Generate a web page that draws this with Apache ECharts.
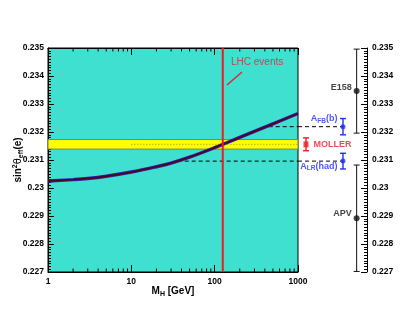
<!DOCTYPE html>
<html><head><meta charset="utf-8">
<script src="https://cdn.jsdelivr.net/npm/echarts@6/dist/echarts.min.js"></script>
<style>html,body{margin:0;padding:0;background:#fff}#c{width:415px;height:321px}</style>
</head><body><div id="c"></div>
<script>
// ---- data ----
const massGeV   = [1, 2, 3, 5, 10, 20, 30, 50, 100, 200, 300, 500, 1000];
const sin2Curve = [0.23025, 0.23030, 0.23034, 0.23042, 0.23057, 0.23076, 0.23089, 0.23110, 0.23144, 0.23181, 0.23202, 0.23229, 0.23266];
const xMinorTicks = [2,3,4,5,6,7,8,9,20,30,40,50,60,70,80,90,200,300,400,500,600,700,800,900];
const yRange = [0.227, 0.235];
const yStep = 0.001;
const lhcMass = 125;
const mollerCenter = 0.23156;
const mollerHalfBand = 0.00017;
const mollerDottedFrom = 10;
const measNames  = ['E158', 'AFB', 'MOLLER', 'ALR', 'APV'];
const measValues = [0.23346, 0.23219, 0.23156, 0.23096, 0.22892];
const measErrors = [0.00150, 0.00029, 0.00023, 0.00028, 0.00190];
const measColumn = [0.85, 0.652, 0.116, 0.652, 0.85];   // column inside side panel (0..1)
const dashStartMass = [445, 36];                      // dashed lines for A_FB(b) and A_LR(had)
const lhcTextAnchor = [157, 0.2345];
const lhcArrow = [[213, 0.23414], [140.6, 0.23368]];

// ---- styling ----
const FONT = '"Liberation Sans", Arial, Helvetica, sans-serif';
const BLACK = '#111', BLUE = '#1f2ff0', RED = '#ee1b24';
const measColors = [BLACK, BLUE, RED, BLUE, BLACK];

const titleRich = (c) => ({
  n:   {fontSize: 10, fontWeight: 'bold', fontFamily: FONT, color: c, lineHeight: 13},
  sub: {fontSize: 7,  fontWeight: 'bold', fontFamily: FONT, color: c, verticalAlign: 'bottom'},
  sup: {fontSize: 7,  fontWeight: 'bold', fontFamily: FONT, color: c, verticalAlign: 'top'},
  th:  {fontSize: 10, fontWeight: 'normal', fontFamily: 'DejaVu Sans, serif', color: c, lineHeight: 13}
});
const labRich = (c) => ({
  n:   {fontSize: 9, fontWeight: 'bold', fontFamily: FONT, color: c, lineHeight: 12},
  sub: {fontSize: 6.5, fontWeight: 'bold', fontFamily: FONT, color: c, verticalAlign: 'bottom'}
});
const measLabelText = {
  E158: '{n|E158}', AFB: '{n|A}{sub|FB}{n|(b)}', MOLLER: '{n|MOLLER}', ALR: '{n|A}{sub|LR}{n|(had)}', APV: '{n|APV}'
};
const measLabelPos = {
  E158: ['left', 2, [0, -4]], AFB: ['left', 3, [0, -8]], MOLLER: ['right', 5, [0, 0]],
  ALR: ['left', 3, [0, 5]], APV: ['left', 2, [0, -5]]
};
const measSymbol = {E158: ['circle', 6], AFB: ['circle', 5], MOLLER: ['rect', [5, 6]], ALR: ['circle', 5], APV: ['circle', 6]};

const axisLabelStyle = {fontSize: 8.5, fontWeight: 'bold', fontFamily: FONT, color: '#000'};
const lineBlack = {color: '#000', width: 1};

const chart = echarts.init(document.getElementById('c'));
const option = {
  animation: false,
  backgroundColor: '#fff',
  grid: [
    {left: 48, top: 48, width: 250, height: 224, outerBoundsMode: 'none', containLabel: false,
     show: true, backgroundColor: '#40e0d0', borderColor: '#000', borderWidth: 1},
    {left: 298, top: 48, width: 69, height: 224, outerBoundsMode: 'none', containLabel: false}
  ],
  xAxis: [
    {type: 'log', logBase: 10, gridIndex: 0, min: 1, max: 1000, position: 'bottom',
     axisLine: {show: true, onZero: false, lineStyle: lineBlack},
     axisTick: {show: true, inside: true, length: 7, lineStyle: lineBlack},
     axisLabel: Object.assign({margin: 5, formatter: v => String(Math.round(v))}, axisLabelStyle),
     splitLine: {show: false},
     name: '{n|M}{sub|H}{n| [GeV]}', nameLocation: 'middle', nameGap: 13, nameMoveOverlap: false,
     nameTextStyle: {rich: titleRich('#000')}},
    {type: 'log', logBase: 10, gridIndex: 0, min: 1, max: 1000, position: 'top',
     axisLine: {show: true, onZero: false, lineStyle: lineBlack},
     axisTick: {show: true, inside: true, length: 7, lineStyle: lineBlack},
     axisLabel: {show: false}, splitLine: {show: false}},
    {type: 'value', gridIndex: 1, min: 0, max: 1, show: false, axisLine: {onZero: false}}
  ],
  yAxis: [
    {type: 'value', gridIndex: 0, min: yRange[0], max: yRange[1], interval: yStep, position: 'left',
     axisLine: {show: true, onZero: false, lineStyle: lineBlack},
     axisTick: {show: true, inside: true, length: 6, lineStyle: lineBlack},
     minorTick: {show: true, splitNumber: 10, length: 3, lineStyle: lineBlack},
     axisLabel: Object.assign({margin: 4}, axisLabelStyle),
     splitLine: {show: false}, minorSplitLine: {show: false},
     name: '{n|sin}{sup|2}{th|θ}{sub|eff}{n|(e)}', nameLocation: 'middle', nameRotate: 90, nameGap: 23,
     nameMoveOverlap: false,
     nameTextStyle: {rich: titleRich('#000')}},
    {type: 'value', gridIndex: 1, min: yRange[0], max: yRange[1], interval: yStep, position: 'right',
     axisLine: {show: true, onZero: false, lineStyle: lineBlack},
     axisTick: {show: true, inside: true, length: 6, lineStyle: lineBlack},
     minorTick: {show: true, splitNumber: 10, length: 3, lineStyle: lineBlack},
     axisLabel: Object.assign({margin: 5}, axisLabelStyle),
     splitLine: {show: false}, minorSplitLine: {show: false}}
  ],
  series: [
    {type: 'custom', xAxisIndex: 0, yAxisIndex: 0, z: 2, silent: true,
     data: [[1, mollerCenter, mollerHalfBand]],
     renderItem: (p, api) => {
       const c = api.value(1), h = api.value(2);
       const a = api.coord([1, c + h]), b = api.coord([1000, c - h]);
       return {type: 'rect', shape: {x: a[0], y: a[1], width: b[0] - a[0], height: b[1] - a[1]},
               style: {fill: '#ffff00', stroke: '#7c8a3c', lineWidth: 1}};
     }},
    {type: 'line', xAxisIndex: 0, yAxisIndex: 0, z: 3, symbol: 'none', silent: true,
     data: [[mollerDottedFrom, mollerCenter], [1000, mollerCenter]],
     lineStyle: {color: '#a08a00', width: 1, type: [1, 2]}},
    {type: 'line', xAxisIndex: 0, yAxisIndex: 0, z: 3, symbol: 'none', silent: true,
     data: [[dashStartMass[0], measValues[1]], [1000, measValues[1]]],
     lineStyle: {color: '#000', width: 1, type: [4, 3]}},
    {type: 'line', xAxisIndex: 0, yAxisIndex: 0, z: 3, symbol: 'none', silent: true,
     data: [[dashStartMass[1], measValues[3]], [1000, measValues[3]]],
     lineStyle: {color: '#000', width: 1, type: [4, 3]}},
    {type: 'line', xAxisIndex: 2, yAxisIndex: 1, z: 3, symbol: 'none', silent: true,
     data: [[0, measValues[1]], [measColumn[1], measValues[1]]],
     lineStyle: {color: '#000', width: 1, type: [4, 3]}},
    {type: 'line', xAxisIndex: 2, yAxisIndex: 1, z: 3, symbol: 'none', silent: true,
     data: [[0, measValues[3]], [measColumn[3], measValues[3]]],
     lineStyle: {color: '#000', width: 1, type: [4, 3]}},
    {type: 'line', xAxisIndex: 0, yAxisIndex: 0, z: 5, symbol: 'none', smooth: 0.4, silent: true,
     data: massGeV.map((m, i) => [m, sin2Curve[i]]),
     lineStyle: {color: '#3322aa', width: 3.4}},
    {type: 'line', xAxisIndex: 0, yAxisIndex: 0, z: 6, symbol: 'none', smooth: 0.4, silent: true,
     data: massGeV.map((m, i) => [m, sin2Curve[i]]),
     lineStyle: {color: '#4a0820', width: 1.8}},
    {type: 'line', xAxisIndex: 0, yAxisIndex: 0, z: 7, symbol: 'none', silent: true,
     data: [[lhcMass, yRange[0]], [lhcMass, yRange[1]]],
     lineStyle: {color: RED, width: 2}},
    {type: 'scatter', xAxisIndex: 0, yAxisIndex: 0, z: 8, symbolSize: 0, silent: true,
     data: [lhcTextAnchor],
     label: {show: true, position: 'right', distance: 0, formatter: 'LHC events',
             fontSize: 10, fontFamily: FONT, color: RED},
     markLine: {silent: true, symbol: ['none', 'arrow'], symbolSize: [0, 8], animation: false,
                label: {show: false}, lineStyle: {color: RED, width: 1.3, type: 'solid'},
                data: [[{coord: lhcArrow[0]}, {coord: lhcArrow[1]}]]}},
    {type: 'custom', xAxisIndex: 2, yAxisIndex: 1, z: 8, silent: true,
     data: measNames.map((n, i) => [measColumn[i], measValues[i], measErrors[i]]),
     renderItem: (p, api) => {
       const x = api.value(0), v = api.value(1), e = api.value(2);
       const t = api.coord([x, v + e]), b = api.coord([x, v - e]);
       const col = measColors[p.dataIndex];
       const lw = col === BLACK ? 1 : 1.4;
       const w = 3;
       return {type: 'group', children: [
         {type: 'line', shape: {x1: t[0], y1: t[1], x2: b[0], y2: b[1]}, style: {stroke: col, lineWidth: lw}},
         {type: 'line', shape: {x1: t[0] - w, y1: t[1], x2: t[0] + w, y2: t[1]}, style: {stroke: col, lineWidth: lw}},
         {type: 'line', shape: {x1: b[0] - w, y1: b[1], x2: b[0] + w, y2: b[1]}, style: {stroke: col, lineWidth: lw}}
       ]};
     }},
    {type: 'scatter', xAxisIndex: 2, yAxisIndex: 1, z: 9, silent: true,
     data: measNames.map((n, i) => ({
       value: [measColumn[i], measValues[i]],
       symbol: measSymbol[n][0], symbolSize: measSymbol[n][1],
       itemStyle: {color: measColors[i]},
       label: {show: true, formatter: measLabelText[n], position: measLabelPos[n][0],
               distance: measLabelPos[n][1], offset: measLabelPos[n][2], rich: labRich(measColors[i])}
     }))},
    {type: 'custom', xAxisIndex: 0, yAxisIndex: 0, z: 10, silent: true,
     data: xMinorTicks.map(m => [m, yRange[0]]),
     renderItem: (p, api) => {
       const m = api.value(0);
       const b = api.coord([m, yRange[0]]), t = api.coord([m, yRange[1]]);
       return {type: 'group', children: [
         {type: 'line', shape: {x1: b[0], y1: b[1], x2: b[0], y2: b[1] - 3.5}, style: {stroke: '#000', lineWidth: 1}},
         {type: 'line', shape: {x1: t[0], y1: t[1], x2: t[0], y2: t[1] + 3.5}, style: {stroke: '#000', lineWidth: 1}}
       ]};
     }}
  ]
};
chart.setOption(option);
</script>
</body></html>
